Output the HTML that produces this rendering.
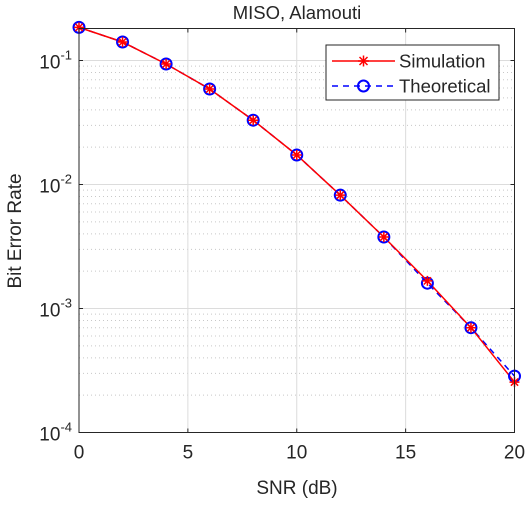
<!DOCTYPE html>
<html><head><meta charset="utf-8"><style>
body{margin:0;background:#fff;font-family:"Liberation Sans",Arial,sans-serif}
text{font-family:"Liberation Sans",Arial,sans-serif;fill:#262626}
</style></head><body>
<svg id="chart" width="528" height="500" xmlns="http://www.w3.org/2000/svg">
<rect width="528" height="500" fill="#fff"/>
<g id="grid"></g>
<g id="series"></g>
<rect x="79" y="28.5" width="435.5" height="404" fill="none" stroke="#262626" stroke-width="1"/>
<g id="ticks"></g>
<text x="297" y="19" text-anchor="middle" font-size="18.5">MISO, Alamouti</text>
<text x="297" y="494" text-anchor="middle" font-size="19">SNR (dB)</text>
<text transform="translate(21,231) rotate(-90)" text-anchor="middle" font-size="19">Bit Error Rate</text>
<g>
<rect x="326" y="45" width="173" height="55" fill="#fff" stroke="#262626"/>
<g>
<line x1="332" y1="61" x2="395" y2="61" stroke="#f00" stroke-width="1.5"/>
<g stroke="#f00" stroke-width="1.5"><line x1="358" y1="61" x2="369" y2="61"/><line x1="363.5" y1="55.5" x2="363.5" y2="66.5"/><line x1="359.5" y1="57" x2="367.5" y2="65"/><line x1="359.5" y1="65" x2="367.5" y2="57"/></g>
<text x="399" y="67.5" font-size="18.5">Simulation</text></g>
<g>
<line x1="332" y1="86" x2="395" y2="86" stroke="#00f" stroke-width="1.5" stroke-dasharray="6,5"/>
<circle cx="363.5" cy="86" r="5.5" fill="none" stroke="#00f" stroke-width="2"/>
<text x="399" y="92.5" font-size="18.5">Theoretical</text></g>
</g>
</svg>
<script>
const snr=[0,2,4,6,8,10,12,14,16,18,20];
const berSim=[0.185,0.141,0.0937,0.0589,0.033,0.0173,0.0082,0.00377,0.00167,0.0007,0.000255];
const berTheo=[0.185,0.141,0.0937,0.0589,0.033,0.0173,0.0082,0.00377,0.0016,0.0007,0.000285];
const xTicks=[0,5,10,15,20];
const yTickExp=[-1,-2,-3,-4];
const NS="http://www.w3.org/2000/svg";
const X0=79,X1=514.5,Y0=432.5,DEC=124;
function xs(v){return X0+(v-0)/20*(X1-X0);}
function ys(v){return Y0-(Math.log10(v)+4)*DEC;}
function mk(tag,attrs,parent){const e=document.createElementNS(NS,tag);for(const k in attrs)e.setAttribute(k,attrs[k]);parent.appendChild(e);return e;}
const grid=document.getElementById('grid'),ticks=document.getElementById('ticks'),ser=document.getElementById('series');
for(let d=-4;d<0;d++){for(let m=2;m<=9;m++){const y=ys(m*Math.pow(10,d));if(y<28.5)continue;
const l=mk('line',{x1:X0,x2:X1,y1:y,y2:y,stroke:'#c8c8c8','stroke-dasharray':'1,3','stroke-width':1},grid);

}}
xTicks.forEach(t=>{const x=xs(t);
const g=mk('line',{x1:x,x2:x,y1:28.5,y2:Y0,stroke:'#dcdcdc'},grid);


mk('line',{x1:x,x2:x,y1:Y0,y2:Y0-4,stroke:'#262626'},ticks);
mk('line',{x1:x,x2:x,y1:28.5,y2:32.5,stroke:'#262626'},ticks);
const tx=mk('text',{x:x,y:Y0+26,'text-anchor':'middle','font-size':19},ticks);tx.textContent=t;

});
yTickExp.forEach(e=>{const y=ys(Math.pow(10,e));
const g=mk('line',{x1:X0,x2:X1,y1:y,y2:y,stroke:'#dcdcdc'},grid);


mk('line',{x1:X0,x2:X0+4,y1:y,y2:y,stroke:'#262626'},ticks);
mk('line',{x1:X1-4,x2:X1,y1:y,y2:y,stroke:'#262626'},ticks);
const tx=mk('text',{x:72,y:y+8,'text-anchor':'end','font-size':19},ticks);


tx.textContent='10';const sp=mk('tspan',{dy:-9,'font-size':13},tx);sp.textContent=String(e);});
function pts(arr){return snr.map((s,i)=>xs(s)+','+ys(arr[i])).join(' ');}
const lt=mk('polyline',{points:pts(berTheo),fill:'none',stroke:'#00f','stroke-width':1.5,'stroke-dasharray':'6,5'},ser);


const ls=mk('polyline',{points:pts(berSim),fill:'none',stroke:'#f00','stroke-width':1.5},ser);


snr.forEach((s,i)=>{const c=mk('circle',{cx:xs(s),cy:ys(berTheo[i]),r:5.5,fill:'none',stroke:'#00f','stroke-width':2},ser);


const x=xs(s),y=ys(berSim[i]);
const p=mk('path',{d:`M${x-5},${y}H${x+5}M${x},${y-5}V${y+5}M${x-3.6},${y-3.6}L${x+3.6},${y+3.6}M${x-3.6},${y+3.6}L${x+3.6},${y-3.6}`,stroke:'#f00','stroke-width':1.5,fill:'none'},ser);

});
</script>
</body></html>
